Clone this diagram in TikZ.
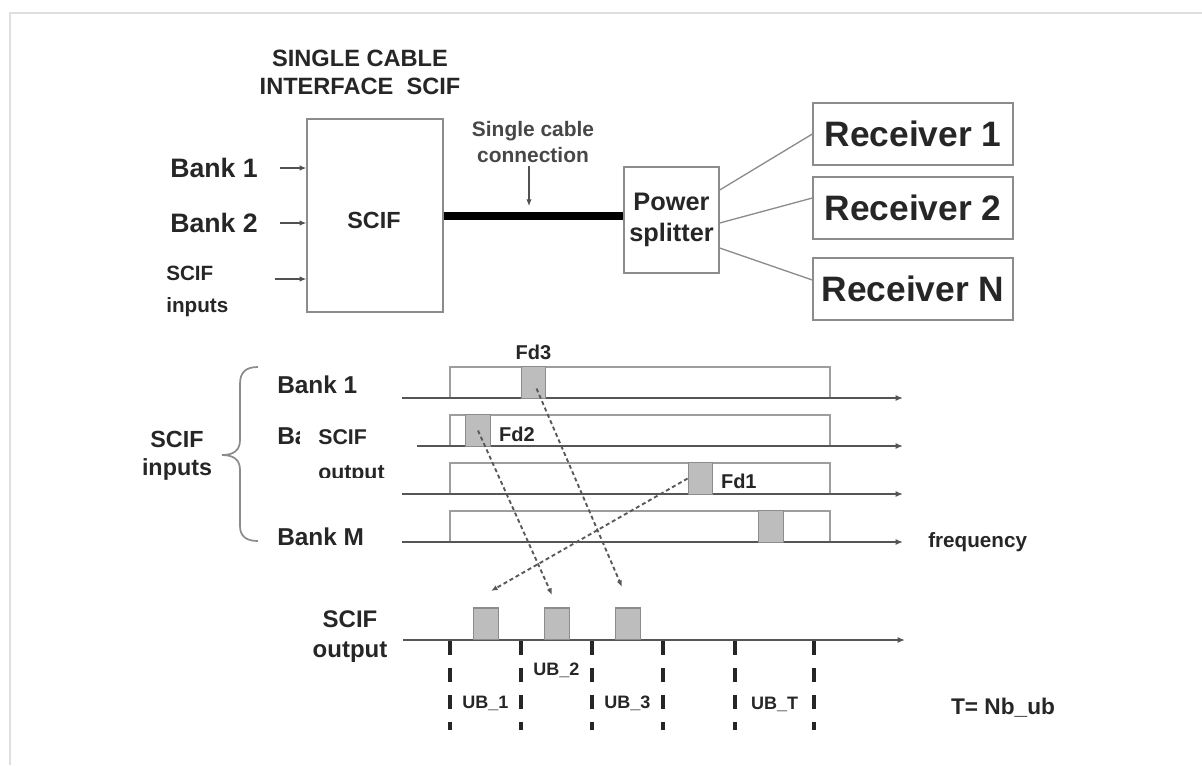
\documentclass[tikz,border=0pt]{standalone}
\usepackage{fontspec}
\setmainfont{Liberation Sans}
\usetikzlibrary{arrows.meta, positioning, calc}

\definecolor{ink}{HTML}{262626}
\definecolor{edge}{HTML}{8C8C8C}
\definecolor{pulse}{HTML}{BDBDBD}
\definecolor{axisc}{HTML}{555555}
\definecolor{dashc}{HTML}{585858}

\begin{document}
\begin{tikzpicture}[
    x=0.75pt, y=-0.75pt, % one unit is one pixel of the layout
    >={Latex[length=5pt, width=4pt]},
    every node/.style={inner sep=0pt, text=ink},
    blk/.style={draw=edge, line width=1pt},
    rcv/.style={blk, minimum width=150pt, minimum height=46.5pt, font=\bfseries\fontsize{26.5pt}{30pt}\selectfont},
    sub/.style={draw=edge, fill=pulse, line width=0.9pt, minimum width=18.5pt, minimum height=23.5pt},
    band/.style={draw=edge!85, line width=0.9pt},
    axis/.style={-{Latex[length=5.5pt, width=4.5pt]}, draw=axisc, line width=1.2pt},
    map/.style={->, draw=dashc, line width=1.4pt, dash pattern=on 3pt off 2.2pt},
    sep/.style={draw=ink, line width=3pt, dash pattern=on 10.5pt off 9.75pt},
    cable/.style={draw=black, line width=6pt},
    wire/.style={draw=edge, line width=1pt},
    feed/.style={->, draw=ink!80, line width=0.8pt},
    bk/.style={anchor=west, font=\bfseries\fontsize{18.3pt}{22pt}\selectfont},
    fdl/.style={font=\bfseries\fontsize{15pt}{18pt}\selectfont},
    ubl/.style={font=\bfseries\fontsize{13.5pt}{16pt}\selectfont}
  ]
  \useasboundingbox (0,0) rectangle (1202,765);
  \draw[draw=gray!25, line width=1.5pt] (10,765) -- (10,13) -- (1202,13);

  % upper half: the cable set-up
  \node[align=center, font=\bfseries\fontsize{17.7pt}{21pt}\selectfont] (title) at (360,72) {SINGLE CABLE\\INTERFACE\ \ SCIF};
  \node[blk, minimum width=102pt, minimum height=144.75pt] (scif) at (375,215.5) {};
  \node[font=\bfseries\fontsize{17.5pt}{20pt}\selectfont] (scift) at (374,220) {SCIF};

  \node[anchor=west, font=\bfseries\fontsize{20pt}{24pt}\selectfont] (in1) at (170,168) {Bank 1};
  \node[anchor=west, font=\bfseries\fontsize{20pt}{24pt}\selectfont] (in2) at (170,223) {Bank 2};
  \node[anchor=west, align=left, font=\bfseries\fontsize{15.5pt}{24pt}\selectfont] (in3) at (166,291) {SCIF\\inputs};
  \coordinate (in3a) at (275,279);
  \draw[feed, shorten <=16.5pt] (in1.east) -- (in1.east -| scif.west);
  \draw[feed, shorten <=16.5pt] (in2.east) -- (in2.east -| scif.west);
  \draw[feed] (in3a) -- (in3a -| scif.west);

  \node[blk, minimum width=71.25pt, minimum height=79.5pt, align=center, font=\bfseries\fontsize{19pt}{23pt}\selectfont] (split) at (671.5,220) {Power\\splitter};
  \draw[cable] (scif.east) -- (scif.east -| split.west);

  \node[align=center, text=ink!85, font=\bfseries\fontsize{15.7pt}{20pt}\selectfont] (cablbl) at (533,142) {Single cable\\connection};
  \coordinate (tap) at (529,206);
  \draw[feed, shorten <=2pt] (cablbl.south -| tap) -- (tap);

  \node[rcv] (rx1) at (913,134) {Receiver 1};
  \node[rcv] (rx2) at (913,208) {Receiver 2};
  \node[rcv] (rxn) at (913,289) {Receiver N};
  \draw[wire] (split.east |- 0,190) -- (rx1.west);
  \draw[wire] (split.east |- 0,223) -- (rx2.west |- 0,198);
  \draw[wire] (split.east |- 0,248) -- (rxn.west |- 0,280);

  % lower half: the bands and the user bands
  \foreach \y in {398,446,494,542} {
    \draw[band] (450,\y) |- (830,\y-31) -- (830,\y);
    \draw[axis] (402,\y) -- (903,\y);
  }
  \coordinate (fq) at (903,542);
  \node[right=18.75pt of fq, font=\bfseries\fontsize{15.5pt}{18pt}\selectfont] (freq) {frequency};

  \node[sub] (fd3) at (533.5,382.5) {};
  \node[sub] (fd2) at (478,430.5) {};
  \node[sub] (fd1) at (700.5,478.5) {};
  \node[sub] (fdm) at (771,526.5) {};
  \node[fdl, above=5pt of fd3] (lfd3) {Fd3};
  \node[fdl, right=6pt of fd2, yshift=-3pt] (lfd2) {Fd2};
  \node[fdl, right=5.5pt of fd1, yshift=-2.5pt] (lfd1) {Fd1};

  \node[bk] (b1) at (277,385) {Bank 1};
  \node[bk] (b2) at (277,436) {Bank 2};
  \node[bk] (bm) at (277,537) {Bank M};

  \draw[draw=edge, line width=1.3pt] (258,367) .. controls (246,367) and (240,372) .. (240,384) -- (240,440)
    .. controls (240,450) and (234,455) .. (222,455) .. controls (234,455) and (240,460) .. (240,470)
    -- (240,526) .. controls (240,536) and (246,541) .. (258,541);
  \node[align=center, font=\bfseries\fontsize{17.5pt}{21pt}\selectfont] (ins) at (177,456) {SCIF\\inputs};

  % pasted patch over Bank 2
  \fill[white] (300,410) rectangle (417,477);
  \begin{scope}
    \clip (300,410) rectangle (417,477);
    \node[anchor=west, align=left, font=\bfseries\fontsize{16pt}{26pt}\selectfont] (patch) at (318,456.5) {SCIF\\output};
  \end{scope}

  % output
  \draw[axis] (403,640) -- (905,640);
  \node[sub, anchor=south] (p1) at (486,640) {};
  \node[sub, anchor=south] (p2) at (557,640) {};
  \node[sub, anchor=south] (p3) at (628,640) {};
  \node[align=center, font=\bfseries\fontsize{18pt}{22.5pt}\selectfont] (outl) at (350,637) {SCIF\\output};

  \coordinate (t1) at (491,591);
  \coordinate (t2) at (552,595);
  \coordinate (t3) at (622,587);
  \draw[map] (fd1.west) -- (t1);
  \draw[map] (fd2.center) -- (t2);
  \draw[map] ($(fd3.center)+(3,6)$) -- (t3);

  \foreach \x in {450,521,592,663,735,814}
    \draw[sep] (\x,641) -- (\x,730);
  \foreach \x/\t/\y in {485.5/1/703, 556.5/2/670, 627.5/3/703, 774.5/T/704}
    \node[ubl] (ub\t) at (\x,\y) {UB\_\t};
  \node[font=\bfseries\fontsize{17pt}{20pt}\selectfont] (tnb) at (1003,708) {T= Nb\_ub};

\end{tikzpicture}
\end{document}
